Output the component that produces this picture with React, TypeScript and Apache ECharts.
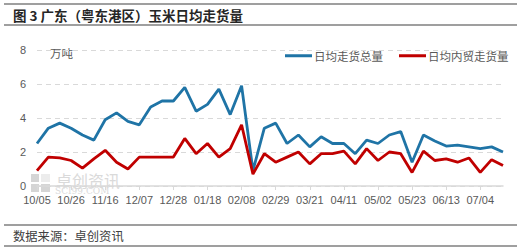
import React, { useEffect, useRef } from "react";
import * as echarts from "echarts";

const categories = [
  "10/05", "10/12", "10/19", "10/26", "11/02", "11/09", "11/16", "11/23", "11/30", "12/07",
  "12/14", "12/21", "12/28", "01/04", "01/11", "01/18", "01/25", "02/01", "02/08", "02/15",
  "02/22", "02/29", "03/07", "03/14", "03/21", "03/28", "04/04", "04/11", "04/18", "04/25",
  "05/02", "05/09", "05/16", "05/23", "05/30", "06/06", "06/13", "06/20", "06/27", "07/04",
  "07/11", "07/18",
];

const totalVolume = [
  2.5, 3.4, 3.7, 3.4, 3.0, 2.7, 3.9, 4.3, 3.8, 3.6,
  4.65, 5.0, 5.0, 5.8, 4.4, 4.8, 5.7, 4.2, 5.9, 0.9,
  3.4, 3.7, 2.5, 3.0, 2.3, 2.9, 2.5, 2.5, 1.9, 2.7,
  2.5, 3.0, 3.2, 1.4, 3.0, 2.65, 2.35, 2.4, 2.3, 2.2,
  2.3, 2.0,
];

const domesticVolume = [
  0.9, 1.7, 1.65, 1.5, 1.05, 1.6, 2.1, 1.4, 1.0, 1.7,
  1.7, 1.7, 1.7, 2.8, 1.9, 2.5, 1.7, 2.2, 3.6, 0.7,
  1.9, 1.4, 1.7, 2.0, 1.3, 1.9, 1.9, 2.05, 1.3, 2.2,
  1.5, 2.0, 1.9, 0.8, 2.05, 1.5, 1.6, 1.4, 1.65, 0.8,
  1.55, 1.2,
];

const seriesNames = ["日均走货总量", "日均内贸走货量"];
const titleText = "图 3 广东（粤东港区）玉米日均走货量";
const sourceText = "数据来源：卓创资讯";
const unitText = "万吨";

export default function App() {
  const ref = useRef<HTMLDivElement>(null);

  useEffect(() => {
    if (!ref.current) return;
    const chart = echarts.init(ref.current, null, { renderer: "svg" });
    const labelFont = '"Liberation Sans", "Noto Sans CJK SC", sans-serif';
    const cjkFont = '"Noto Sans CJK SC", sans-serif';
    chart.setOption({
      animation: false,
      backgroundColor: "#ffffff",
      grid: { left: 37, right: 26, top: 50, bottom: 64, containLabel: false },
      legend: {
        top: 45,
        left: 280,
        itemWidth: 27,
        itemHeight: 3,
        itemGap: 16,
        icon: "rect",
        textStyle: { color: "#595959", fontSize: 11.5, fontFamily: cjkFont, padding: [0, 0, 0, -3] },
        data: seriesNames,
      },
      xAxis: {
        type: "category",
        data: categories,
        boundaryGap: false,
        axisLine: { lineStyle: { color: "#d9d9d9", width: 1.5 } },
        axisTick: { show: true, interval: 2, length: 4, lineStyle: { color: "#d9d9d9" } },
        axisLabel: {
          interval: 2,
          color: "#595959",
          fontSize: 11,
          fontFamily: labelFont,
          margin: 8,
        },
      },
      yAxis: {
        type: "value",
        min: 0,
        max: 8,
        interval: 2,
        axisLine: { show: false },
        axisTick: { show: false },
        axisLabel: { color: "#595959", fontSize: 11, fontFamily: labelFont, margin: 11 },
        splitLine: { lineStyle: { color: "#d9d9d9", type: [5, 4], width: 1 } },
      },
      series: [
        {
          name: seriesNames[0],
          type: "line",
          data: totalVolume,
          symbol: "none",
          lineStyle: { color: "#1f74a6", width: 2.8 },
          itemStyle: { color: "#1f74a6" },
          z: 3,
        },
        {
          name: seriesNames[1],
          type: "line",
          data: domesticVolume,
          symbol: "none",
          lineStyle: { color: "#c00000", width: 2.8 },
          itemStyle: { color: "#c00000" },
          z: 4,
        },
      ],
      graphic: [
        { type: "line", shape: { x1: 4, y1: 4, x2: 517, y2: 4 }, style: { stroke: "#7f7f7f", lineWidth: 1.5 } },
        { type: "line", shape: { x1: 4, y1: 25, x2: 517, y2: 25 }, style: { stroke: "#7f7f7f", lineWidth: 1.5 } },
        {
          type: "text",
          x: 13,
          y: 15,
          style: {
            text: titleText,
            fill: "#262626",
            font: 'bold 13.5px "Noto Sans CJK SC", sans-serif',
            verticalAlign: "middle",
          },
        },
        {
          type: "text",
          x: 50,
          y: 53,
          style: { text: unitText, fill: "#595959", font: '11.5px "Noto Sans CJK SC", sans-serif', verticalAlign: "middle" },
        },
        { type: "line", shape: { x1: 4, y1: 225, x2: 517, y2: 225 }, style: { stroke: "#7f7f7f", lineWidth: 1.5 } },
        { type: "line", shape: { x1: 4, y1: 246, x2: 517, y2: 246 }, style: { stroke: "#7f7f7f", lineWidth: 1.5 } },
        {
          type: "text",
          x: 13,
          y: 236,
          style: {
            text: sourceText,
            fill: "#404040",
            font: '12.3px "Noto Sans CJK SC", sans-serif',
            verticalAlign: "middle",
          },
        },
        // watermark
        {
          type: "group",
          z: 0,
          silent: true,
          children: [
            { type: "rect", shape: { x: 31, y: 174, width: 8, height: 8 }, style: { fill: "#d5d5d5" } },
            { type: "rect", shape: { x: 31, y: 184, width: 8, height: 8 }, style: { fill: "#d5d5d5" } },
            { type: "rect", shape: { x: 41, y: 184, width: 9, height: 8 }, style: { fill: "#d5d5d5" } },
            { type: "rect", shape: { x: 41, y: 174, width: 9, height: 8 }, style: { fill: "#ececec" } },
            {
              type: "text",
              x: 56,
              y: 180,
              style: { text: "卓创资讯", fill: "#dadada", font: '16px "Noto Sans CJK SC", sans-serif', verticalAlign: "middle" },
            },
            {
              type: "text",
              x: 55,
              y: 191,
              style: { text: "SCI99.COM", fill: "#dadada", font: '9px "DejaVu Serif", serif', verticalAlign: "middle" },
            },
          ],
        },
      ],
    });
    return () => chart.dispose();
  }, []);

  return (
    <div
      ref={ref}
      style={{ position: "fixed", left: 0, top: 0, width: 529, height: 250, background: "#fff" }}
    />
  );
}
